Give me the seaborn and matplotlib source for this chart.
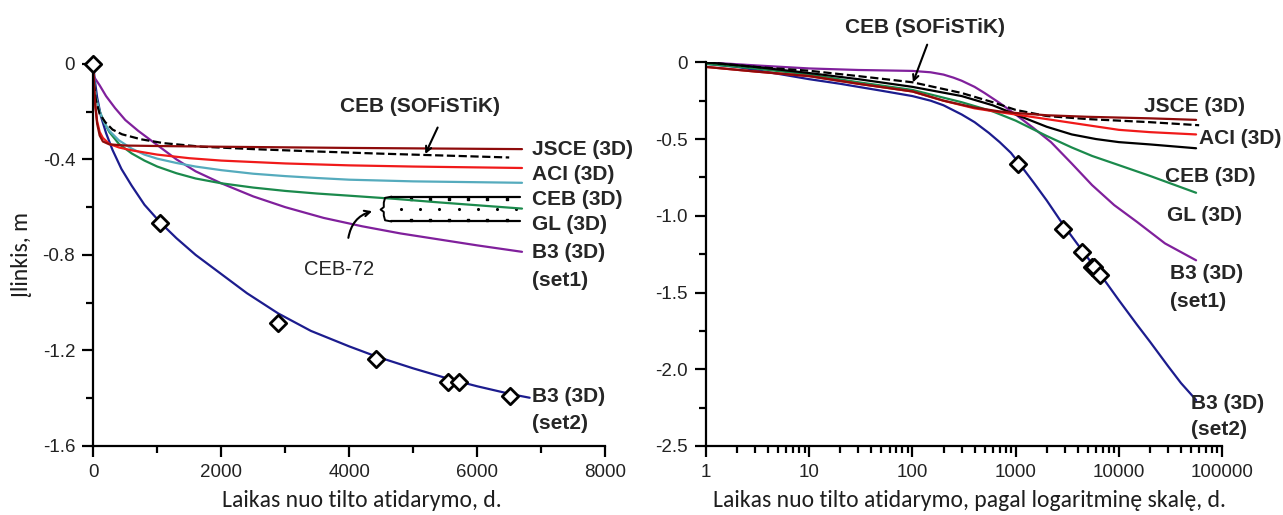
import numpy as np
import matplotlib
matplotlib.use('Agg')
import matplotlib.pyplot as plt
import matplotlib.ticker as mticker
from matplotlib import font_manager
import seaborn as sns

# measured deflection of the span (diamonds)
meas_days = [0, 1050, 2890, 4420, 5550, 5710, 6520]
meas_defl = [0.0, -0.665, -1.086, -1.236, -1.333, -1.333, -1.389]

# ---- left panel: linear time (days) ----
lin_jsce_t = [0, 10, 30, 60, 100, 150, 250, 500, 1000, 2000, 4000, 6700]
lin_jsce_y = [0, -0.08, -0.17, -0.25, -0.3, -0.325, -0.337, -0.342, -0.344, -0.347, -0.352, -0.357]

lin_aci_t = [0, 10, 30, 60, 100, 150, 250, 400, 600, 1000, 1500, 2000, 3000, 4000, 5000, 6700]
lin_aci_y = [0, -0.08, -0.17, -0.24, -0.285, -0.31, -0.335, -0.35, -0.362, -0.38, -0.395, -0.405,
             -0.417, -0.425, -0.43, -0.436]

lin_cyan_t = [0, 15, 40, 100, 180, 250, 400, 600, 800, 1000, 1300, 1600, 2000, 2500, 3000, 3500,
              4000, 5000, 6700]
lin_cyan_y = [0, -0.08, -0.14, -0.2, -0.25, -0.28, -0.32, -0.355, -0.38, -0.397, -0.415, -0.43,
              -0.445, -0.46, -0.47, -0.478, -0.485, -0.492, -0.498]

lin_ceb_t = [0, 15, 40, 100, 180, 250, 400, 600, 800, 1000, 1300, 1600, 2000, 2500, 3000, 3500,
             4000, 4700, 5400, 6000, 6700]
lin_ceb_y = [0, -0.08, -0.14, -0.2, -0.25, -0.285, -0.335, -0.375, -0.405, -0.43, -0.458, -0.48,
             -0.5, -0.518, -0.532, -0.543, -0.552, -0.565, -0.58, -0.592, -0.606]

lin_sof_t = [10, 40, 100, 190, 300, 450, 750, 1100, 1700, 2500, 3500, 4500, 5500, 6500]
lin_sof_y = [-0.08, -0.15, -0.21, -0.245, -0.275, -0.295, -0.316, -0.332, -0.347, -0.357, -0.367,
             -0.376, -0.384, -0.392]

lin_b3s1_t = [0, 100, 200, 340, 500, 700, 900, 1100, 1300, 1600, 2000, 2500, 3000, 3600, 4200,
              4800, 5400, 6000, 6700]
lin_b3s1_y = [-0.05, -0.09, -0.135, -0.185, -0.235, -0.28, -0.32, -0.36, -0.4, -0.45, -0.5, -0.555,
              -0.6, -0.645, -0.68, -0.71, -0.735, -0.76, -0.787]

lin_b3s2_t = [0, 20, 60, 120, 200, 300, 440, 600, 800, 1050, 1300, 1600, 2000, 2400, 2890, 3400,
              4000, 4420, 5000, 5570, 6000, 6530, 6820]
lin_b3s2_y = [0, -0.06, -0.14, -0.22, -0.29, -0.36, -0.44, -0.51, -0.59, -0.665, -0.73, -0.8, -0.88,
              -0.96, -1.045, -1.118, -1.183, -1.225, -1.275, -1.32, -1.35, -1.383, -1.398]

# ---- right panel: log time (days) ----
log_jsce_t = [1, 3, 10, 30, 100, 200, 400, 700, 1000, 2000, 5000, 10000, 20000, 56000]
log_jsce_y = [-0.03, -0.06, -0.09, -0.14, -0.19, -0.25, -0.295, -0.32, -0.33, -0.345, -0.355, -0.36,
              -0.365, -0.375]

log_aci_t = [1, 3, 10, 30, 100, 200, 400, 700, 1000, 2000, 5000, 10000, 20000, 56000]
log_aci_y = [-0.03, -0.06, -0.09, -0.14, -0.19, -0.25, -0.3, -0.325, -0.34, -0.37, -0.41, -0.44,
             -0.455, -0.47]

log_black_t = [1, 3, 10, 30, 100, 300, 600, 1000, 2000, 3500, 6000, 10000, 20000, 56000]
log_black_y = [0, -0.03, -0.07, -0.11, -0.16, -0.22, -0.28, -0.34, -0.42, -0.47, -0.5, -0.52,
               -0.535, -0.56]

log_ceb_t = [1, 3, 10, 30, 100, 300, 600, 1000, 2000, 3500, 5500, 10000, 20000, 56000]
log_ceb_y = [-0.01, -0.04, -0.08, -0.13, -0.18, -0.26, -0.32, -0.38, -0.48, -0.555, -0.61, -0.67,
             -0.74, -0.85]

log_sof_t = [1, 3, 10, 30, 100, 300, 600, 1000, 2000, 5000, 10000, 20000, 60000]
log_sof_y = [0, -0.03, -0.055, -0.09, -0.13, -0.2, -0.26, -0.31, -0.35, -0.37, -0.38, -0.39, -0.41]

log_b3s1_t = [1, 3, 10, 30, 100, 150, 200, 250, 300, 400, 500, 700, 1000, 1500, 2200, 3500, 5500,
              9000, 15000, 28000, 56000]
log_b3s1_y = [0, -0.02, -0.04, -0.05, -0.056, -0.065, -0.08, -0.1, -0.12, -0.16, -0.2, -0.265,
              -0.34, -0.43, -0.52, -0.66, -0.8, -0.93, -1.04, -1.18, -1.29]

log_b3s2_t = [1, 2, 3, 5, 10, 20, 30, 50, 100, 150, 200, 300, 400, 550, 700, 900, 1100, 1500, 2000,
              2900, 4400, 6500, 10000, 15000, 20000, 30000, 40000, 56000]
log_b3s2_y = [-0.01, -0.03, -0.05, -0.075, -0.11, -0.14, -0.16, -0.185, -0.22, -0.25, -0.28, -0.34,
              -0.39, -0.46, -0.52, -0.59, -0.665, -0.785, -0.9, -1.06, -1.225, -1.375, -1.55, -1.71,
              -1.82, -1.98, -2.09, -2.2]

# CEB-72 band (left panel)
ceb72_days = [4660, 6670]
ceb72_upper = -0.556
ceb72_lower = -0.66

c_jsce = '#8e0b0b'
c_aci = '#f01a1a'
c_cyan = '#55abbd'
c_ceb = '#1b8a4c'
c_b3s1 = '#80209c'
c_b3s2 = '#1c1c8e'

sns.set_style('ticks')
plt.rcParams['axes.unicode_minus'] = False

names = {f.name for f in font_manager.fontManager.ttflist}
if 'Liberation Sans Narrow' in names:
    tick_font, tick_size = 'Liberation Sans Narrow', 15
else:
    tick_font, tick_size = 'Liberation Sans', 13.5
lab_font = 'Carlito' if 'Carlito' in names else 'Lato'
plt.rcParams['font.family'] = ['Liberation Sans', 'DejaVu Sans']

fig = plt.figure(figsize=(12.83, 5.15), dpi=100)
ax1 = fig.add_axes([0.0727, 0.134, 0.399, 0.742])
ax2 = fig.add_axes([0.5503, 0.134, 0.4022, 0.745])

lw = 1.6
def curve(ax, t, y, color, **kw):
    sns.lineplot(x=t, y=y, ax=ax, color=color, lw=lw, estimator=None, sort=False, **kw)

# left panel curves
curve(ax1, lin_b3s2_t, lin_b3s2_y, c_b3s2)
curve(ax1, lin_b3s1_t, lin_b3s1_y, c_b3s1)
curve(ax1, lin_ceb_t, lin_ceb_y, c_ceb)
curve(ax1, lin_cyan_t, lin_cyan_y, c_cyan)
curve(ax1, lin_aci_t, lin_aci_y, c_aci)
curve(ax1, lin_sof_t, lin_sof_y, 'black', ls='--')
curve(ax1, lin_jsce_t, lin_jsce_y, c_jsce)

# right panel curves
ax2.set_xscale('log')
curve(ax2, log_b3s2_t, log_b3s2_y, c_b3s2)
curve(ax2, log_b3s1_t, log_b3s1_y, c_b3s1)
curve(ax2, log_ceb_t, log_ceb_y, c_ceb)
curve(ax2, log_black_t, log_black_y, 'black')
curve(ax2, log_sof_t, log_sof_y, 'black', ls='--')
curve(ax2, log_aci_t, log_aci_y, c_aci)
curve(ax2, log_jsce_t, log_jsce_y, c_jsce)

# measurements
sns.scatterplot(x=meas_days, y=meas_defl, ax=ax1, marker='D', s=70, facecolor='white',
                edgecolor='black', linewidth=2, zorder=10, clip_on=False)
sns.scatterplot(x=meas_days[1:], y=meas_defl[1:], ax=ax2, marker='D', s=70, facecolor='white',
                edgecolor='black', linewidth=2, zorder=10, clip_on=False)

# CEB-72 band
x0, x1 = ceb72_days
ax1.plot([x0, x1], [ceb72_upper, ceb72_upper], color='black', lw=1.6)
ax1.plot([x0, x1], [ceb72_lower, ceb72_lower], color='black', lw=1.6)
xs = np.arange(x0 + 150, x1, 300)
ax1.scatter(xs, np.full(len(xs), (ceb72_upper + ceb72_lower) / 2), s=1.5, color='black')
xt = np.arange(x0 + 300, x1, 300)
ax1.scatter(xt, np.full(len(xt), ceb72_upper - 0.008), s=1.5, color='black', marker='s')
ax1.scatter(xt, np.full(len(xt), ceb72_lower + 0.008), s=1.5, color='black', marker='s')
bx = x0 - 120
ax1.plot([x0, bx + 20, bx, bx, bx - 50, bx, bx, bx + 20, x0],
         [ceb72_upper, ceb72_upper - 0.005, ceb72_upper - 0.025, -0.6, -0.61, -0.62,
          ceb72_lower + 0.025, ceb72_lower + 0.005, ceb72_lower], color='black', lw=1.4)

# axes styling
for ax in (ax1, ax2):
    sns.despine(ax=ax)
    for s in ('left', 'bottom'):
        ax.spines[s].set_linewidth(1.6)
        ax.spines[s].set_color('black')
    ax.tick_params(which='major', length=8, width=1.6, color='black', direction='out', pad=5)
    ax.tick_params(which='minor', length=5, width=1.6, color='black', direction='out')

ax1.set_xlim(0, 8000)
ax1.set_ylim(-1.6, 0)
ax1.xaxis.set_major_locator(mticker.MultipleLocator(2000))
ax1.xaxis.set_minor_locator(mticker.MultipleLocator(1000))
ax1.yaxis.set_major_locator(mticker.MultipleLocator(0.4))
ax1.yaxis.set_minor_locator(mticker.MultipleLocator(0.2))
fmt = mticker.FuncFormatter(lambda v, _: '0' if abs(v) < 1e-9 else f'{v:g}')
ax1.xaxis.set_major_formatter(fmt)
ax1.yaxis.set_major_formatter(fmt)

ax2.set_xlim(1, 100000)
ax2.set_ylim(-2.5, 0)
ax2.xaxis.set_major_locator(mticker.LogLocator(base=10, numticks=10))
ax2.xaxis.set_minor_locator(mticker.LogLocator(base=10, subs=np.arange(2, 10), numticks=50))
ax2.xaxis.set_minor_formatter(mticker.NullFormatter())
ax2.xaxis.set_major_formatter(mticker.FuncFormatter(lambda v, _: f'{v:.0f}'))
ax2.yaxis.set_major_locator(mticker.MultipleLocator(0.5))
ax2.yaxis.set_minor_locator(mticker.MultipleLocator(0.25))
ax2.yaxis.set_major_formatter(mticker.FuncFormatter(lambda v, _: '0' if abs(v) < 1e-9 else f'{v:.1f}'))

for ax in (ax1, ax2):
    for lab in ax.get_xticklabels() + ax.get_yticklabels():
        lab.set_fontfamily(tick_font)
        lab.set_fontsize(tick_size)
        lab.set_color('#222222')

lab_kw = dict(fontsize=17, family=[lab_font, 'DejaVu Sans'], color='#1e1e1e')
ax1.set_xlabel('Laikas nuo tilto atidarymo, d.', **lab_kw)
ax1.set_ylabel('Įlinkis, m', **lab_kw)
ax1.xaxis.set_label_coords(0.525, -0.115)
ax1.yaxis.set_label_coords(-0.12, 0.5)
ax2.set_xlabel('Laikas nuo tilto atidarymo, pagal logaritminę skalę, d.', **lab_kw)
ax2.xaxis.set_label_coords(0.51, -0.115)
ax2.set_ylabel('')

# curve labels
bold = dict(fontsize=15, fontweight='bold', ha='left', va='center', clip_on=False)
for txt, yy in [('JSCE (3D)', -0.36), ('ACI (3D)', -0.465), ('CEB (3D)', -0.57),
                ('GL (3D)', -0.672), ('B3 (3D)', -0.79), ('(set1)', -0.905),
                ('B3 (3D)', -1.393), ('(set2)', -1.505)]:
    ax1.text(6850, yy, txt, **bold)

for txt, xx, yy in [('JSCE (3D)', 17700, -0.289), ('ACI (3D)', 60000, -0.495),
                    ('CEB (3D)', 28300, -0.745), ('GL (3D)', 29000, -0.995),
                    ('B3 (3D)', 31000, -1.375), ('(set1)', 31000, -1.56),
                    ('B3 (3D)', 50000, -2.22), ('(set2)', 50000, -2.395)]:
    ax2.text(xx, yy, txt, **bold)

ax1.text(5100, -0.179, 'CEB (SOFiSTiK)', fontsize=15, fontweight='bold', ha='center', va='center')
ax1.annotate('', xy=(5170, -0.388), xytext=(5400, -0.256),
             arrowprops=dict(arrowstyle='->', lw=1.5, color='black'))
ax2.text(133, 0.23, 'CEB (SOFiSTiK)', fontsize=15, fontweight='bold', ha='center', va='center',
         clip_on=False)
ax2.annotate('', xy=(99, -0.148), xytext=(142, 0.132),
             arrowprops=dict(arrowstyle='->', lw=1.5, color='black'), annotation_clip=False)

ax1.text(3840, -0.863, 'CEB-72', fontsize=tick_size + 1, family=tick_font, ha='center', va='center')
ax1.annotate('', xy=(4400, -0.614), xytext=(3980, -0.74),
             arrowprops=dict(arrowstyle='->', lw=1.5, color='black',
                             connectionstyle='arc3,rad=-0.35'))

fig.savefig('out.png', dpi=100)
